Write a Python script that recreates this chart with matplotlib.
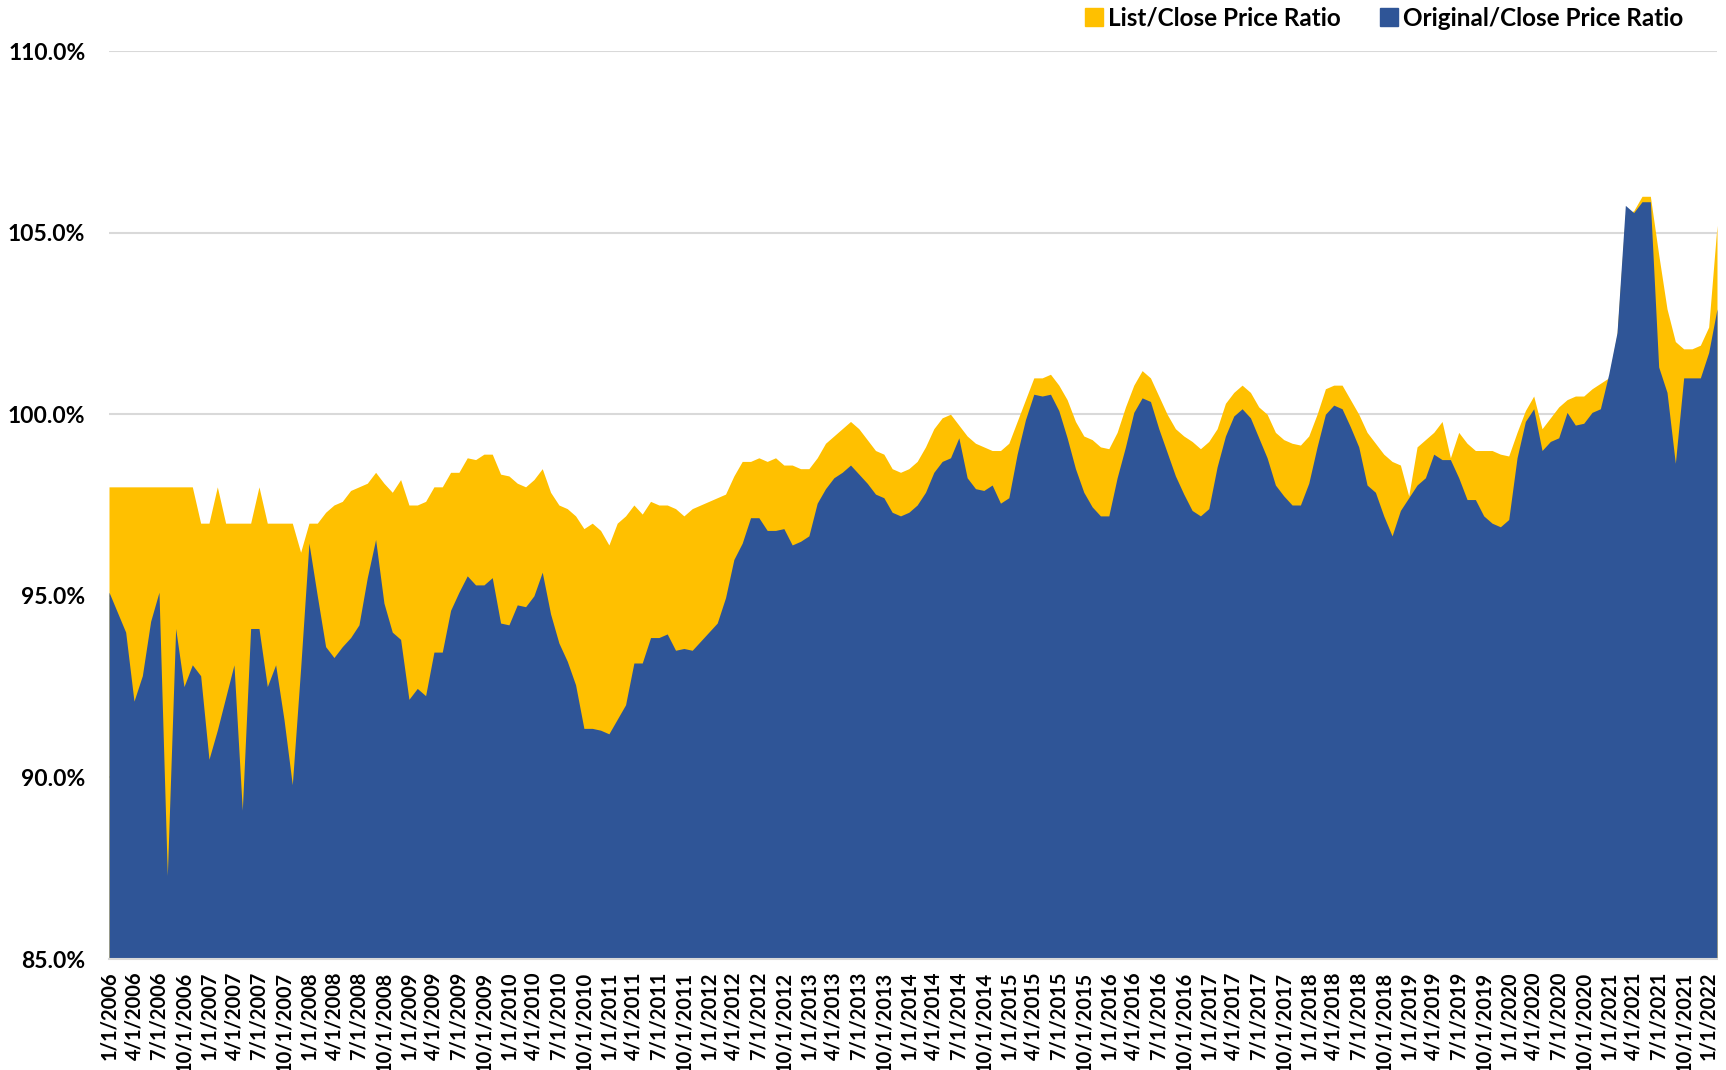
import matplotlib
matplotlib.use("Agg")
import matplotlib.pyplot as plt
import pandas as pd
from matplotlib.patches import Patch

plt.rcParams['font.family'] = ['Lato', 'DejaVu Sans']

# meses: 1/2006 .. 2/2022
meses = pd.date_range('2006-01-01', periods=194, freq='MS')

# List/Close Price Ratio (%)
list_close = [
    98.0, 98.0, 98.0, 98.0, 98.0, 98.0, 98.0, 98.0, 98.0, 98.0, 98.0, 97.0,
    97.0, 98.0, 97.0, 97.0, 97.0, 97.0, 98.0, 97.0, 97.0, 97.0, 97.0, 96.2,
    97.0, 97.0, 97.3, 97.5, 97.6, 97.9, 98.0, 98.1, 98.4, 98.1, 97.85, 98.2,
    97.5, 97.5, 97.6, 98.0, 98.0, 98.4, 98.4, 98.8, 98.75, 98.9, 98.9, 98.35,
    98.3, 98.1, 98.0, 98.2, 98.5, 97.85, 97.5, 97.4, 97.2, 96.85, 97.0, 96.8,
    96.4, 97.0, 97.2, 97.5, 97.25, 97.6, 97.5, 97.5, 97.4, 97.2, 97.4, 97.5,
    97.6, 97.7, 97.8, 98.3, 98.7, 98.7, 98.8, 98.7, 98.8, 98.6, 98.6, 98.5,
    98.5, 98.8, 99.2, 99.4, 99.6, 99.8, 99.6, 99.3, 99.0, 98.9, 98.5, 98.4,
    98.5, 98.7, 99.1, 99.6, 99.9, 100.0, 99.7, 99.4, 99.2, 99.1, 99.0, 99.0,
    99.2, 99.8, 100.4, 101.0, 101.0, 101.1, 100.8, 100.4, 99.8, 99.4, 99.3, 99.1,
    99.05, 99.5, 100.2, 100.8, 101.2, 101.0, 100.5, 100.0, 99.6, 99.4, 99.25, 99.05,
    99.25, 99.6, 100.3, 100.6, 100.8, 100.6, 100.2, 100.0, 99.5, 99.3, 99.2, 99.15,
    99.4, 100.0, 100.7, 100.8, 100.8, 100.4, 100.0, 99.5, 99.2, 98.9, 98.7, 98.6,
    97.75, 99.1, 99.3, 99.5, 99.8, 98.8, 99.5, 99.2, 99.0, 99.0, 99.0, 98.9,
    98.85, 99.5, 100.1, 100.5, 99.6, 99.9, 100.2, 100.4, 100.5, 100.5, 100.7, 100.85,
    101.0, 102.2, 105.5, 105.6, 106.0, 106.0, 104.4, 102.9, 102.0, 101.8, 101.8, 101.9,
    102.4, 105.2,
]

# Original/Close Price Ratio (%)
orig_close = [
    95.1, 94.55, 94.0, 92.1, 92.8, 94.3, 95.1, 87.3, 94.1, 92.5, 93.1, 92.8,
    90.5, 91.3, 92.2, 93.1, 89.1, 94.1, 94.1, 92.5, 93.1, 91.6, 89.8, 93.0,
    96.45, 95.0, 93.6, 93.3, 93.6, 93.85, 94.2, 95.5, 96.55, 94.8, 94.0, 93.8,
    92.15, 92.45, 92.25, 93.45, 93.45, 94.6, 95.1, 95.55, 95.3, 95.3, 95.5, 94.25,
    94.2, 94.75, 94.7, 95.0, 95.65, 94.5, 93.7, 93.2, 92.55, 91.35, 91.35, 91.3,
    91.2, 91.6, 92.0, 93.15, 93.15, 93.85, 93.85, 93.95, 93.5, 93.55, 93.5, 93.75,
    94.0, 94.25, 94.95, 96.0, 96.45, 97.15, 97.15, 96.8, 96.8, 96.85, 96.4, 96.5,
    96.65, 97.55, 97.95, 98.25, 98.4, 98.6, 98.35, 98.1, 97.8, 97.7, 97.3, 97.2,
    97.3, 97.5, 97.85, 98.4, 98.7, 98.8, 99.35, 98.25, 97.95, 97.9, 98.05, 97.55,
    97.7, 98.9, 99.85, 100.55, 100.5, 100.55, 100.1, 99.35, 98.5, 97.85, 97.45, 97.2,
    97.2, 98.25, 99.1, 100.05, 100.45, 100.35, 99.6, 98.95, 98.3, 97.8, 97.35, 97.2,
    97.4, 98.55, 99.4, 99.95, 100.15, 99.9, 99.35, 98.8, 98.05, 97.75, 97.5, 97.5,
    98.1, 99.1, 100.0, 100.25, 100.15, 99.65, 99.1, 98.05, 97.85, 97.2, 96.65, 97.35,
    97.7, 98.05, 98.25, 98.9, 98.75, 98.75, 98.25, 97.65, 97.65, 97.2, 97.0, 96.9,
    97.1, 98.8, 99.8, 100.15, 99.0, 99.25, 99.35, 100.05, 99.7, 99.75, 100.05, 100.15,
    101.1, 102.25, 105.75, 105.55, 105.85, 105.85, 101.3, 100.6, 98.65, 101.0, 101.0, 101.0,
    101.7, 102.9,
]

y_ticks = [85, 90, 95, 100, 105, 110]
ouro = '#FFC000'
azul = '#2F5597'

x = range(len(meses))
rotulos = ['%d/1/%d' % (d.month, d.year) for d in meses]

fig = plt.figure(figsize=(17.26, 10.70), dpi=100)
ax = fig.add_axes([109 / 1726, 1 - 959 / 1070, 1608 / 1726, 908 / 1070])

# areas sobrepostas (azul por cima)
ax.fill_between(x, y_ticks[0], list_close, color=ouro, lw=0, zorder=2)
ax.fill_between(x, y_ticks[0], orig_close, color=azul, lw=0, zorder=3)

ax.set_xlim(0, len(meses) - 1)
ax.set_ylim(y_ticks[0], y_ticks[-1])
ax.set_yticks(y_ticks)
ax.set_yticklabels(['%.1f%%' % v for v in y_ticks], fontsize=16.5, fontweight='bold')
ax.set_xticks(list(x)[::3])
ax.set_xticklabels(rotulos[::3], rotation=90, fontsize=14.5, fontweight='bold')
ax.tick_params(axis='y', length=0, pad=17)
ax.tick_params(axis='x', length=0, pad=9)

ax.grid(axis='y', color='#D9D9D9', lw=1.5)
ax.set_axisbelow(True)
for s in ['top', 'left', 'right']:
    ax.spines[s].set_visible(False)
ax.spines['bottom'].set_color('#D9D9D9')
ax.spines['bottom'].set_linewidth(1.5)
ax.spines['bottom'].set_zorder(5)

# legenda no topo a direita
handles = [Patch(color=ouro, label='List/Close Price Ratio'),
           Patch(color=azul, label='Original/Close Price Ratio')]
fig.legend(handles=handles, loc='center right', bbox_to_anchor=(1695 / 1726, 1 - 18 / 1070),
           ncol=2, frameon=False, borderpad=0, handlelength=0.75, handleheight=0.75,
           handletextpad=0.2, columnspacing=1.6,
           prop={'size': 17.5, 'weight': 'bold'})

fig.savefig('out.png', dpi=100)
